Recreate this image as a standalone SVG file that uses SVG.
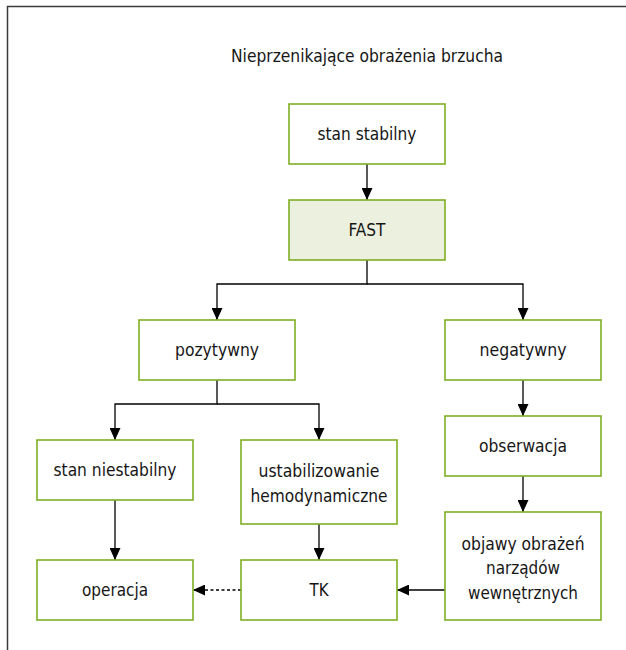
<svg xmlns="http://www.w3.org/2000/svg" width="626" height="650" viewBox="0 0 626 650">
  <style>
    .box { fill: #ffffff; stroke: #7fae23; stroke-width: 1.6; }
    .box.hl { fill: #ebf0df; }
    .lbl { font-family: "DejaVu Sans Condensed", "DejaVu Sans", sans-serif; font-stretch: condensed; font-size: 18px; fill: #161616; text-anchor: middle; }
    .edge { fill: none; stroke: #000000; stroke-width: 1.3; }
    .dash { stroke-dasharray: 3 2.5; }
  </style>
  <defs>
    <marker id="arrow" markerUnits="userSpaceOnUse" markerWidth="12" markerHeight="11" refX="12" refY="5.5" orient="auto">
      <path d="M0,0 L12,5.5 L0,11 Z" fill="#000000"/>
    </marker>
  </defs>

  <rect width="626" height="650" fill="#ffffff"/>
  <!-- outer frame (top and left edges) -->
  <path d="M7.5,650 V6.5 H626" fill="none" stroke="#3a3a3a" stroke-width="1.5"/>

  <text class="lbl" x="367" y="62" textLength="272" lengthAdjust="spacingAndGlyphs">Nieprzenikające obrażenia brzucha</text>

  <g id="connectors">
    <path class="edge" d="M367,164 V200" marker-end="url(#arrow)"/>
    <path class="edge" d="M367,260 V284 H217 V320" marker-end="url(#arrow)"/>
    <path class="edge" d="M367,284 H523 V320" marker-end="url(#arrow)"/>
    <path class="edge" d="M217,380 V404 H115 V440" marker-end="url(#arrow)"/>
    <path class="edge" d="M217,404 H319 V440" marker-end="url(#arrow)"/>
    <path class="edge" d="M523,380 V416" marker-end="url(#arrow)"/>
    <path class="edge" d="M523,476 V512" marker-end="url(#arrow)"/>
    <path class="edge" d="M115,500 V560" marker-end="url(#arrow)"/>
    <path class="edge" d="M319,524 V560" marker-end="url(#arrow)"/>
    <path class="edge" d="M445,590 H397" marker-end="url(#arrow)"/>
    <path class="edge dash" d="M241,590 H193" marker-end="url(#arrow)"/>
  </g>

  <g id="stan-stabilny">
    <rect class="box" x="289" y="104" width="156" height="60"/>
    <text class="lbl" x="367" y="140" textLength="99" lengthAdjust="spacingAndGlyphs">stan stabilny</text>
  </g>
  <g id="fast">
    <rect class="box hl" x="289" y="200" width="156" height="60"/>
    <text class="lbl" x="367" y="236" textLength="37" lengthAdjust="spacingAndGlyphs">FAST</text>
  </g>
  <g id="pozytywny">
    <rect class="box" x="139" y="320" width="156" height="60"/>
    <text class="lbl" x="217" y="356" textLength="84" lengthAdjust="spacingAndGlyphs">pozytywny</text>
  </g>
  <g id="negatywny">
    <rect class="box" x="445" y="320" width="156" height="60"/>
    <text class="lbl" x="523" y="356" textLength="87" lengthAdjust="spacingAndGlyphs">negatywny</text>
  </g>
  <g id="stan-niestabilny">
    <rect class="box" x="37" y="440" width="156" height="60"/>
    <text class="lbl" x="115" y="476" textLength="123" lengthAdjust="spacingAndGlyphs">stan niestabilny</text>
  </g>
  <g id="ustabilizowanie">
    <rect class="box" x="241" y="440" width="156" height="84"/>
    <text class="lbl" x="319" y="476.5" textLength="121" lengthAdjust="spacingAndGlyphs">ustabilizowanie</text>
    <text class="lbl" x="319" y="501.5" textLength="137" lengthAdjust="spacingAndGlyphs">hemodynamiczne</text>
  </g>
  <g id="obserwacja">
    <rect class="box" x="445" y="416" width="156" height="60"/>
    <text class="lbl" x="523" y="452" textLength="88" lengthAdjust="spacingAndGlyphs">obserwacja</text>
  </g>
  <g id="objawy">
    <rect class="box" x="445" y="512" width="156" height="108"/>
    <text class="lbl" x="523" y="549.5" textLength="123" lengthAdjust="spacingAndGlyphs">objawy obrażeń</text>
    <text class="lbl" x="523" y="574" textLength="74" lengthAdjust="spacingAndGlyphs">narządów</text>
    <text class="lbl" x="523" y="598.5" textLength="110" lengthAdjust="spacingAndGlyphs">wewnętrznych</text>
  </g>
  <g id="operacja">
    <rect class="box" x="37" y="560" width="156" height="60"/>
    <text class="lbl" x="115" y="596" textLength="66" lengthAdjust="spacingAndGlyphs">operacja</text>
  </g>
  <g id="tk">
    <rect class="box" x="241" y="560" width="156" height="60"/>
    <text class="lbl" x="319" y="596" textLength="19" lengthAdjust="spacingAndGlyphs">TK</text>
  </g>
</svg>
